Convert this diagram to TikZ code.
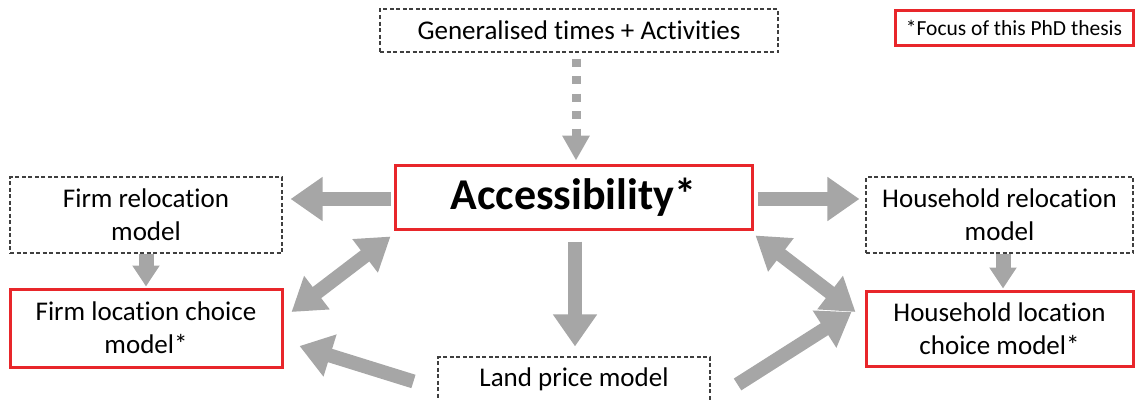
\documentclass[tikz,border=0pt]{standalone}
\usepackage{fontspec}
\setmainfont{Carlito}[Ligatures={NoCommon}]
\usetikzlibrary{arrows.meta,calc}
\definecolor{agray}{HTML}{A6A6A6}
\definecolor{ared}{HTML}{E8262A}
\definecolor{dgray}{HTML}{3F3F3F}
\begin{document}
\begin{tikzpicture}[x=1pt,y=-1pt,
  dbox/.style={draw=dgray, line width=1.1pt, dash pattern=on 4pt off 2.5pt, inner sep=0pt, align=center, font=\fontsize{27}{33}\selectfont},
  rbox/.style={draw=ared, line width=3pt, inner sep=0pt, align=center, font=\fontsize{27}{33}\selectfont},
  bigarrow/.style={draw=agray, line width=14pt, -{Triangle[width=42pt,length=32pt]}},
  dblarrow/.style={draw=agray, line width=14pt, {Triangle[width=40pt,length=32pt]}-{Triangle[width=40pt,length=32pt]}},
  smallarrow/.style={draw=agray, line width=15pt, -{Triangle[width=26pt,length=21pt]}},
  dotarrow/.style={draw=agray, line width=9pt, dash pattern=on 8pt off 9.5pt, -{Triangle[width=26pt,length=25pt]}}
]
\useasboundingbox (0,0) rectangle (1135,399);
\clip (0,0) rectangle (1135,399);

\node[dbox, minimum width=398pt, minimum height=43pt] (gen) at (579,30.5) {Generalised times + Activities};
\node[rbox, minimum width=238pt, minimum height=35pt, font=\fontsize{21.5}{26}\selectfont] (focus) at (1014,27.5) {*Focus of this PhD thesis};
\node[rbox, minimum width=357pt, minimum height=64pt, font=\fontsize{44}{50}\selectfont\bfseries] (acc) at (573.5,197) {Accessibility*};
\node[dbox, minimum width=272pt, minimum height=76pt] (frel) at (146,215) {Firm relocation\\model};
\node[rbox, minimum width=272pt, minimum height=78pt] (floc) at (146,328) {Firm location choice\\model*};
\node[dbox, minimum width=267pt, minimum height=76pt] (hrel) at (999.5,215) {Household relocation\\model};
\node[rbox, minimum width=267pt, minimum height=75pt] (hloc) at (999.5,328.5) {Household location\\choice model*};
\node[dbox, minimum width=272pt, minimum height=63pt] (land) at (574,388.5) {};
\node[font=\fontsize{27}{33}\selectfont, anchor=base, inner sep=0pt] (landtxt) at ($(land.north)+(0,30)$) {Land price model};

\draw[dotarrow] ($(gen.south)+(-3,6)$) -- ($(acc.north)+(2.5,-3)$);
\draw[bigarrow] ($(acc.west)+(-3,2)$) -- ($(frel.east)+(8,-16)$);
\draw[smallarrow] (frel.south) -- ($(floc.north)+(0,-1)$);
\draw[dblarrow] ($(acc.south west)+(-3,6)$) -- ($(floc.east)+(8,-16)$);
\draw[bigarrow] ($(land.north west)+(-24,25)$) -- ($(floc.east)+(16,18)$);
\draw[bigarrow] ($(acc.south)+(1.5,11)$) -- ($(land.north)+(1,-10)$);
\draw[bigarrow] ($(acc.east)+(4,2)$) -- ($(hrel.west)+(-6,-16)$);
\draw[smallarrow] ($(hrel.south)+(3.5,0)$) -- ($(hloc.north)+(3.5,-1)$);
\draw[dblarrow] ($(acc.south east)+(2,5)$) -- ($(hloc.west)+(-9,-16.5)$);
\draw[bigarrow] ($(land.north east)+(27,28)$) -- ($(hloc.west)+(-13,-16.5)$);
\end{tikzpicture}
\end{document}
